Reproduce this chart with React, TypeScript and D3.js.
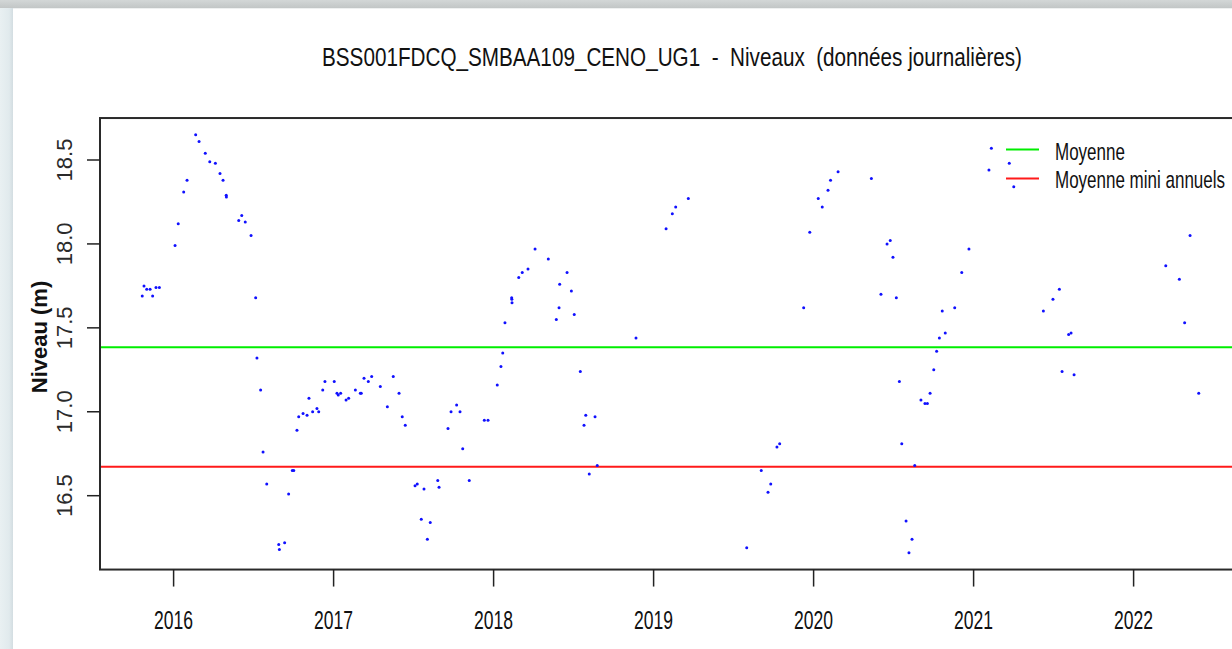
import React from "react";
import * as d3 from "d3";

// ---- Data (decimal years, level in m) ----
const dates = [
  2015.804, 2015.815, 2015.832, 2015.853, 2015.869, 2015.89, 2015.911,
  2016.009, 2016.029, 2016.063, 2016.084, 2016.138, 2016.159, 2016.198, 2016.226,
  2016.261, 2016.29, 2016.309, 2016.329, 2016.33, 2016.407, 2016.426, 2016.448,
  2016.484, 2016.513, 2016.521, 2016.544, 2016.559, 2016.582, 2016.657, 2016.661,
  2016.694, 2016.719, 2016.742, 2016.751, 2016.771, 2016.782, 2016.809, 2016.834,
  2016.846, 2016.869, 2016.896, 2016.907, 2016.932, 2016.946,
  2017.004, 2017.021, 2017.029, 2017.044, 2017.078, 2017.094, 2017.136, 2017.167,
  2017.173, 2017.19, 2017.217, 2017.238, 2017.292, 2017.336, 2017.373, 2017.409,
  2017.429, 2017.448, 2017.509, 2017.523, 2017.548, 2017.565, 2017.586, 2017.604,
  2017.651, 2017.659, 2017.715, 2017.734, 2017.769, 2017.79, 2017.807, 2017.848,
  2017.942, 2017.965,
  2018.023, 2018.046, 2018.057, 2018.071, 2018.113, 2018.114, 2018.115, 2018.157,
  2018.179, 2018.215, 2018.259, 2018.342, 2018.392, 2018.409, 2018.413, 2018.459,
  2018.486, 2018.504, 2018.542, 2018.565, 2018.576, 2018.598, 2018.634, 2018.648,
  2018.89,
  2019.078, 2019.117, 2019.138, 2019.217, 2019.582, 2019.673, 2019.715, 2019.732,
  2019.771, 2019.788, 2019.938, 2019.976,
  2020.029, 2020.054, 2020.09, 2020.106, 2020.153, 2020.361, 2020.421, 2020.459,
  2020.479, 2020.496, 2020.517, 2020.536, 2020.551, 2020.578, 2020.596, 2020.615,
  2020.632, 2020.671, 2020.696, 2020.711, 2020.728, 2020.751, 2020.769, 2020.786,
  2020.804, 2020.823, 2020.882, 2020.926, 2020.971,
  2021.096, 2021.111, 2021.223, 2021.251, 2021.436, 2021.496, 2021.536, 2021.553,
  2021.594, 2021.609, 2021.628,
  2022.201, 2022.286, 2022.319, 2022.353, 2022.407,
];

const levels = [
  17.69, 17.75, 17.73, 17.73, 17.69, 17.74, 17.74,
  17.99, 18.12, 18.31, 18.38, 18.65, 18.61, 18.54, 18.49,
  18.48, 18.42, 18.38, 18.29, 18.28, 18.14, 18.17, 18.13,
  18.05, 17.68, 17.32, 17.13, 16.76, 16.57, 16.21, 16.18,
  16.22, 16.51, 16.65, 16.65, 16.89, 16.97, 16.99, 16.98,
  17.08, 17.0, 17.02, 17.0, 17.13, 17.18,
  17.18, 17.11, 17.1, 17.11, 17.07, 17.08, 17.13, 17.11,
  17.11, 17.2, 17.18, 17.21, 17.15, 17.03, 17.21, 17.11,
  16.97, 16.92, 16.56, 16.57, 16.36, 16.54, 16.24, 16.34,
  16.59, 16.55, 16.9, 17.0, 17.04, 17.0, 16.78, 16.59,
  16.95, 16.95,
  17.16, 17.27, 17.35, 17.53, 17.68, 17.67, 17.65, 17.8,
  17.83, 17.85, 17.97, 17.91, 17.55, 17.62, 17.76, 17.83,
  17.72, 17.58, 17.24, 16.92, 16.98, 16.63, 16.97, 16.68,
  17.44,
  18.09, 18.18, 18.22, 18.27, 16.19, 16.65, 16.52, 16.57,
  16.79, 16.81, 17.62, 18.07,
  18.27, 18.22, 18.32, 18.38, 18.43, 18.39, 17.7, 18.0,
  18.02, 17.92, 17.68, 17.18, 16.81, 16.35, 16.16, 16.24,
  16.68, 17.07, 17.05, 17.05, 17.11, 17.25, 17.36, 17.44,
  17.6, 17.47, 17.62, 17.83, 17.97,
  18.44, 18.57, 18.48, 18.34, 17.6, 17.67, 17.73, 17.24,
  17.46, 17.47, 17.22,
  17.87, 17.79, 17.53, 18.05, 17.11,
];

const yTicks = [16.5, 17.0, 17.5, 18.0, 18.5];
const xTicks = [2016, 2017, 2018, 2019, 2020, 2021, 2022];
const meanLevel = 17.384;
const meanMinAnnual = 16.672;
const legendItems = [
  { label: "Moyenne", color: "#00ee00" },
  { label: "Moyenne mini annuels", color: "#ff1a1a" },
];
const title = "BSS001FDCQ_SMBAA109_CENO_UG1  -  Niveaux  (données journalières)";
const yLabel = "Niveau (m)";

const W = 1232;
const H = 649;

export default function App() {
  const x = d3.scaleLinear().domain([2016, 2022]).range([173.6, 1133.6]);
  const y = d3.scaleLinear().domain([16.5, 18.5]).range([495.7, 160]);

  const xMin = 2015.54;
  const xMax = 2022.68;
  const yMin = 16.06;
  const yMax = 18.75;
  const left = x(xMin);
  const right = x(xMax);
  const top = y(yMax);
  const bottom = y(yMin);

  const font = "Liberation Sans, Arial, Helvetica, sans-serif";

  return (
    <svg
      width={W}
      height={H}
      style={{ position: "absolute", left: 0, top: 0, background: "#fff" }}
    >
      <defs>
        <linearGradient id="topband" x1="0" y1="0" x2="0" y2="1">
          <stop offset="0" stopColor="#d3d7d7" />
          <stop offset="1" stopColor="#c2c6c6" />
        </linearGradient>
        <linearGradient id="leftband" x1="0" y1="0" x2="1" y2="0">
          <stop offset="0" stopColor="#e9f0f2" />
          <stop offset="0.7" stopColor="#e1eaed" />
          <stop offset="1" stopColor="#d3dde1" />
        </linearGradient>
        <clipPath id="plotclip">
          <rect x={left} y={top} width={right - left} height={bottom - top} />
        </clipPath>
      </defs>

      <rect x={0} y={0} width={W} height={H} fill="#ffffff" />
      <rect x={0} y={0} width={13} height={H} fill="url(#leftband)" />
      <rect x={0} y={0} width={W} height={8} fill="url(#topband)" />
      <rect x={13} y={8} width={W} height={1} fill="#eef0f0" />

      {/* Title */}
      <text
        x={322}
        y={66}
        fontFamily={font}
        fontSize={25}
        fill="#111"
        textLength={700}
        lengthAdjust="spacingAndGlyphs"
        style={{ whiteSpace: "pre" }}
      >
        {title}
      </text>

      {/* Reference lines and points */}
      <g clipPath="url(#plotclip)">
        <line x1={left} x2={right} y1={y(meanLevel)} y2={y(meanLevel)} stroke={legendItems[0].color} strokeWidth={2} />
        <line x1={left} x2={right} y1={y(meanMinAnnual)} y2={y(meanMinAnnual)} stroke={legendItems[1].color} strokeWidth={2} />
        {dates.map((d, i) => (
          <circle key={i} cx={x(d)} cy={y(levels[i])} r={1.5} fill="#1010ff" />
        ))}
      </g>

      {/* Box */}
      <rect x={left} y={top} width={right - left} height={bottom - top} fill="none" stroke="#2a2a2a" strokeWidth={2} />

      {/* Y axis */}
      {yTicks.map((t) => (
        <g key={t}>
          <line x1={left - 13} x2={left} y1={y(t)} y2={y(t)} stroke="#222" strokeWidth={1.5} />
          <text
            transform={`translate(72,${y(t)}) rotate(-90)`}
            textAnchor="middle"
            fontFamily={font}
            fontSize={22}
            fill="#2a2a2a"
          >
            {t.toFixed(1)}
          </text>
        </g>
      ))}
      <text
        transform={`translate(47,337) rotate(-90)`}
        textAnchor="middle"
        fontFamily={font}
        fontSize={22}
        fontWeight="bold"
        fill="#111"
      >
        {yLabel}
      </text>

      {/* X axis */}
      {xTicks.map((t) => (
        <g key={t}>
          <line x1={x(t)} x2={x(t)} y1={bottom} y2={bottom + 17} stroke="#222" strokeWidth={1.5} />
          <text
            x={x(t) - 19.5}
            y={629}
            fontFamily={font}
            fontSize={25}
            fill="#111"
            textLength={39}
            lengthAdjust="spacingAndGlyphs"
          >
            {t}
          </text>
        </g>
      ))}

      {/* Legend */}
      {legendItems.map((it, i) => (
        <g key={it.label}>
          <line x1={1006} x2={1039} y1={149.5 + i * 29} y2={149.5 + i * 29} stroke={it.color} strokeWidth={2} />
          <text
            transform={`translate(1055,${160 + i * 28}) scale(1,1.4)`}
            fontFamily={font}
            fontSize={17}
            fill="#111"
          >
            {it.label}
          </text>
        </g>
      ))}
    </svg>
  );
}
